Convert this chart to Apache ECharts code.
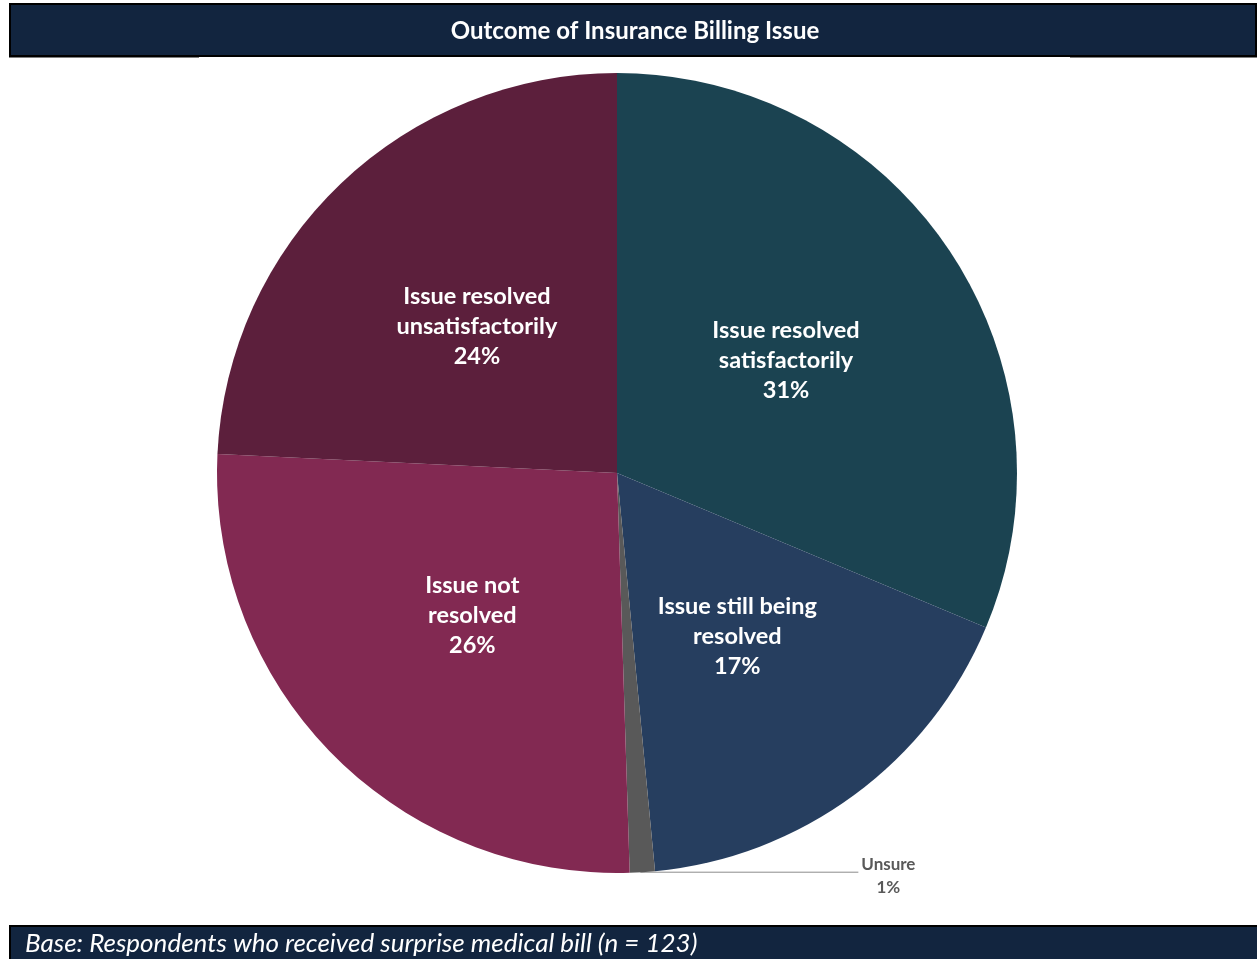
<!DOCTYPE html>
<html>
<head>
<meta charset="utf-8">
<title>Outcome of Insurance Billing Issue</title>
<script src="https://cdn.jsdelivr.net/npm/echarts@6/dist/echarts.min.js"></script>
<style>
  html, body { margin: 0; padding: 0; background: #ffffff; }
  #chart { width: 1257px; height: 959px; }
</style>
</head>
<body>
<div id="chart"></div>
<script>
// Survey outcomes, clockwise from 12 o'clock
const categories = [
  'Issue resolved\nsatisfactorily',
  'Issue still being\nresolved',
  'Unsure',
  'Issue not\nresolved',
  'Issue resolved\nunsatisfactorily'
];
const shares = [31, 17, 1, 26, 24];
const sliceColors = ['#1b4351', '#263e5f', '#595959', '#822952', '#5c1f3c'];

const titleText = 'Outcome of Insurance Billing Issue';
const baseText = 'Base: Respondents who received surprise medical bill (n = 123)';

const FONT = 'Lato, "Open Sans", sans-serif';
const NAVY = '#12253f';

const chart = echarts.init(document.getElementById('chart'), null, { renderer: 'canvas' });

const pieData = categories.map((name, i) => ({
  name,
  value: shares[i],
  itemStyle: { color: sliceColors[i] },
  label: name === 'Unsure'
    ? { position: 'outside', color: '#595959', fontSize: 17, lineHeight: 23, fontWeight: 'bold', align: 'center' }
    : undefined,
  labelLine: name === 'Unsure'
    ? { show: true, length: 0, length2: 216, lineStyle: { color: '#8c8c8c', width: 1 } }
    : { show: false }
}));

chart.setOption({
  backgroundColor: '#ffffff',
  animation: false,
  graphic: [
    {
      type: 'rect', z: 10,
      shape: { x: 10, y: 4, width: 1246, height: 52 },
      style: { fill: NAVY, stroke: '#000000', lineWidth: 2 }
    },
    { type: 'rect', z: 11, shape: { x: 9, y: 55, width: 190, height: 2.5 }, style: { fill: '#000000' } },
    { type: 'rect', z: 11, shape: { x: 1070, y: 55, width: 187, height: 2.5 }, style: { fill: '#000000' } },
    {
      type: 'text', z: 12, x: 635, y: 31,
      style: {
        text: titleText, fill: '#ffffff', font: 'bold 24px ' + FONT,
        textAlign: 'center', textVerticalAlign: 'middle'
      }
    },
    {
      type: 'rect', z: 10,
      shape: { x: 10, y: 926, width: 1248, height: 36 },
      style: { fill: NAVY, stroke: '#000000', lineWidth: 2 }
    },
    {
      type: 'text', z: 12, x: 25, y: 944,
      style: {
        text: baseText, fill: '#ffffff', font: 'italic 26px ' + FONT,
        textAlign: 'left', textVerticalAlign: 'middle'
      }
    }
  ],
  series: [{
    type: 'pie',
    center: [617, 473],
    radius: [0, 400],
    startAngle: 90,
    clockwise: true,
    avoidLabelOverlap: false,
    silent: true,
    data: pieData,
    label: {
      show: true,
      position: 'inside',
      formatter: p => p.name + '\n' + p.value + '%',
      color: '#ffffff',
      fontFamily: FONT,
      fontWeight: 'bold',
      fontSize: 23.5,
      lineHeight: 30,
      align: 'center'
    },
    labelLayout: function (params) {
      if (params.dataIndex !== 2 || !params.labelLinePoints) return {};
      const start = params.labelLinePoints[0];
      const y = start[1];
      const endX = start[0] + 216;
      return {
        x: endX + 30,
        y: y + 4,
        align: 'center',
        verticalAlign: 'middle',
        labelLinePoints: [[start[0] - 2, y], [endX, y], [endX, y]]
      };
    }
  }]
});
</script>
</body>
</html>
